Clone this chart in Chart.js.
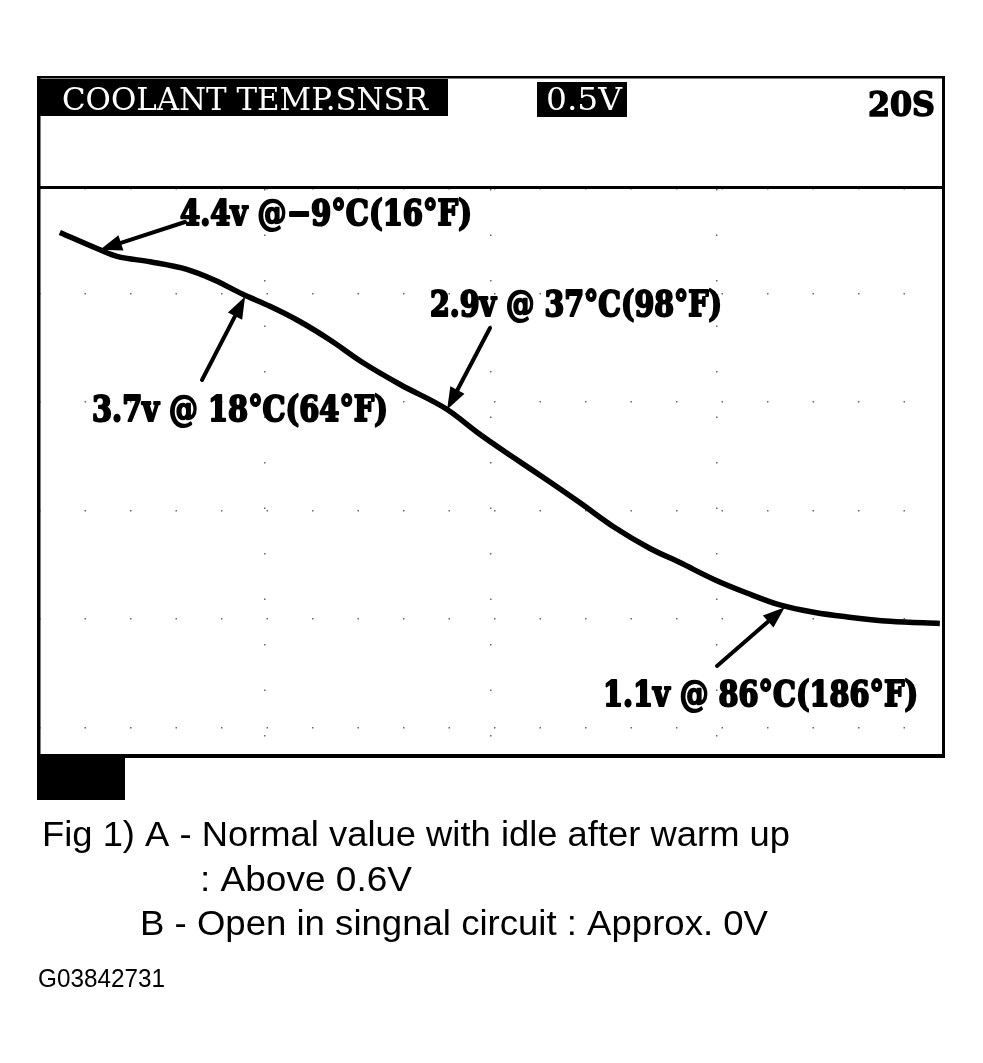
<!DOCTYPE html>
<html>
<head>
<meta charset="utf-8">
<title>Coolant Temp Sensor</title>
<script src="https://cdn.jsdelivr.net/npm/chart.js@4.4.1/dist/chart.umd.min.js"></script>
<style>
  html, body { margin: 0; padding: 0; background: #fff; }
  canvas { display: block; }
</style>
</head>
<body>
<canvas id="scope" width="983" height="1063"></canvas>
<script>
// Scope trace: time (s) vs. sensor signal (V)
const timeSec = [0.46, 1.35, 1.73, 2.46, 3.27, 3.89, 4.51, 5.11, 5.77, 6.44, 7.17, 7.99,
  9.03, 9.76, 10.49, 11.24, 11.97, 12.71, 13.52, 14.18, 14.96, 15.66, 16.39, 17.17,
  17.88, 18.83, 19.93];
const volts = [4.56, 4.40, 4.34, 4.29, 4.22, 4.12, 3.99, 3.88, 3.74, 3.57, 3.36, 3.16,
  2.93, 2.70, 2.49, 2.28, 2.07, 1.85, 1.65, 1.52, 1.36, 1.24, 1.13, 1.06,
  1.02, 0.98, 0.96];

// Callouts: where each arrow touches the trace, and its text
const calloutTime = [1.35, 4.56, 9.03, 16.5];
const calloutVolt = [4.40, 3.97, 2.93, 1.11];
const calloutText = ['4.4v @\u22129\u00b0C(16\u00b0F)', '3.7v @ 18\u00b0C(64\u00b0F)',
  '2.9v @ 37\u00b0C(98\u00b0F)', '1.1v @ 86\u00b0C(186\u00b0F)'];

// Screen header and figure notes
const headerTitle = 'COOLANT TEMP.SNSR';
const headerVolt = '0.5V';
const headerTime = '20S';
const captionLines = ['Fig 1) A - Normal value with idle after warm up',
  ': Above 0.6V',
  'B - Open in singnal circuit : Approx. 0V'];
const figureCode = 'G03842731';

// layout (pixels)
const callLayout = [
  { tail: [185, 222], tx: 180, ty: 225, tw: 292 },
  { tail: [202, 380], tx: 92, ty: 421, tw: 296 },
  { tail: [490, 328], tx: 430, ty: 316, tw: 292 },
  { tail: [717, 666], tx: 603, ty: 706, tw: 315 }
];
const captionLayout = [
  { x: 42, y: 846, w: 748 },
  { x: 200, y: 891, w: 212 },
  { x: 140, y: 935, w: 628 }
];

function fitText(ctx, text, x, y, width, font, stroke) {
  ctx.save();
  ctx.font = font;
  const w = ctx.measureText(text).width;
  ctx.translate(x, y);
  ctx.scale(width / w, 1);
  ctx.fillText(text, 0, 0);
  if (stroke) {
    ctx.lineWidth = stroke;
    ctx.lineJoin = 'round';
    ctx.strokeStyle = ctx.fillStyle;
    ctx.strokeText(text, 0, 0);
  }
  ctx.restore();
}

function arrow(ctx, x0, y0, x1, y1) {
  const ang = Math.atan2(y1 - y0, x1 - x0);
  const len = 22, half = 8;
  const bx = x1 - Math.cos(ang) * len, by = y1 - Math.sin(ang) * len;
  ctx.beginPath();
  ctx.moveTo(x0, y0);
  ctx.lineTo(bx, by);
  ctx.lineWidth = 4;
  ctx.stroke();
  ctx.beginPath();
  ctx.moveTo(x1, y1);
  ctx.lineTo(bx + Math.sin(ang) * half, by - Math.cos(ang) * half);
  ctx.lineTo(bx - Math.sin(ang) * half, by + Math.cos(ang) * half);
  ctx.closePath();
  ctx.fill();
}

const scopeScreen = {
  id: 'scopeScreen',
  afterDatasetsDraw(chart) {
    const ctx = chart.ctx;
    const xs = chart.scales.x, ys = chart.scales.y;
    ctx.save();
    ctx.fillStyle = '#000';
    ctx.strokeStyle = '#000';
    ctx.lineCap = 'round';
    calloutText.forEach((txt, i) => {
      const L = callLayout[i];
      const px = xs.getPixelForValue(calloutTime[i]);
      const py = ys.getPixelForValue(calloutVolt[i]);
      arrow(ctx, L.tail[0], L.tail[1], px, py);
      fitText(ctx, txt, L.tx, L.ty, L.tw, 'bold 35px "DejaVu Serif"', 2.2);
    });
    ctx.restore();
  },
  afterDraw(chart) {
    const ctx = chart.ctx;
    const a = chart.chartArea;
    ctx.save();
    ctx.fillStyle = '#000';
    ctx.strokeStyle = '#000';

    // screen frame
    ctx.fillRect(37, 76, a.right - 37 + 2, 2.5);
    ctx.fillRect(37, 76, 3.5, a.bottom - 76 + 1);
    ctx.fillRect(a.right - 1, 76, 3, a.bottom - 76 + 1);
    ctx.fillRect(37, a.top - 3, a.right - 37 + 2, 3);
    ctx.fillRect(37, a.bottom - 3, a.right - 37 + 2, 4);
    ctx.fillRect(37, a.bottom, 88, 43);

    // header
    ctx.fillRect(40, 79, 408, 37);
    ctx.fillRect(537, 82, 90, 35);
    ctx.fillStyle = '#fff';
    fitText(ctx, headerTitle, 62, 110, 366, '32px "DejaVu Serif"');
    fitText(ctx, headerVolt, 546, 110, 76, '32px "DejaVu Serif"');
    ctx.fillStyle = '#000';
    fitText(ctx, headerTime, 868, 116, 67, 'bold 34px "DejaVu Serif"', 1.6);

    // figure notes
    captionLines.forEach((line, i) => {
      const c = captionLayout[i];
      fitText(ctx, line, c.x, c.y, c.w, '35px "Liberation Sans"');
    });
    fitText(ctx, figureCode, 38, 987, 127, '25px "Liberation Sans"');
    ctx.restore();
  }
};

new Chart(document.getElementById('scope'), {
  type: 'line',
  data: {
    datasets: [{
      data: timeSec.map((t, i) => ({ x: t, y: volts[i] })),
      borderColor: '#000',
      borderWidth: 5.5,
      pointRadius: 0,
      cubicInterpolationMode: 'monotone',
      fill: false
    }]
  },
  options: {
    responsive: false,
    animation: false,
    events: [],
    layout: { padding: { left: 39, right: 40, top: 189, bottom: 306 } },
    plugins: { legend: { display: false }, tooltip: { enabled: false } },
    scales: {
      x: {
        type: 'linear',
        min: 0,
        max: 20,
        ticks: { display: false, stepSize: 5 },
        grid: { color: '#666', lineWidth: 1.5, drawTicks: false },
        border: { display: false, dash: [1.5, 44] }
      },
      y: {
        min: -0.27,
        max: 4.96,
        ticks: { display: false, stepSize: 1 },
        grid: { color: '#666', lineWidth: 1.5, drawTicks: false },
        border: { display: false, dash: [1.5, 44] }
      }
    }
  },
  plugins: [scopeScreen]
});
</script>
</body>
</html>
